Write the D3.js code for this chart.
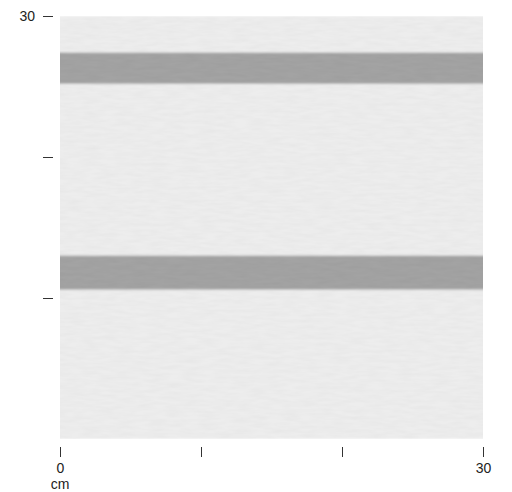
<!DOCTYPE html>
<html>
<head>
<meta charset="utf-8">
<script src="https://cdn.jsdelivr.net/npm/d3@7"></script>
<style>
  body { margin: 0; background: #fff; }
  text { font-family: "Liberation Sans", Arial, sans-serif; }
</style>
</head>
<body>
<script>
// bande scure del tessuto (cm dal basso)
const stripeStart = [25.2, 10.6];
const stripeEnd = [27.4, 13.0];
// tacche degli assi
const xTicks = [0, 10, 20, 30];
const yTicks = [10, 20, 30];
const xLabels = {0: "0", 30: "30"};
const yLabels = {30: "30"};

const width = 512, height = 492;

const svg = d3.select("body").append("svg")
  .attr("width", width)
  .attr("height", height);

const x = d3.scaleLinear().domain([0, 30]).range([60, 483]);
const y = d3.scaleLinear().domain([0, 30]).range([439, 16]);

// filtro per la trama del tessuto
const defs = svg.append("defs");
const f = defs.append("filter").attr("id", "weave")
  .attr("x", 0).attr("y", 0).attr("width", 1).attr("height", 1);
f.append("feGaussianBlur").attr("in", "SourceGraphic").attr("stdDeviation", "0 0.8").attr("result", "soft");
f.append("feTurbulence")
  .attr("type", "fractalNoise")
  .attr("baseFrequency", "0.06 0.3")
  .attr("numOctaves", 2)
  .attr("seed", 3)
  .attr("result", "noise");
f.append("feColorMatrix")
  .attr("in", "noise")
  .attr("type", "matrix")
  .attr("values", "0 0 0 0 0  0 0 0 0 0  0 0 0 0 0  0 0 0 0.08 -0.02")
  .attr("result", "shade");
f.append("feComposite").attr("in", "shade").attr("in2", "soft").attr("operator", "atop");

const swatch = svg.append("g").attr("filter", "url(#weave)");

// sfondo chiaro
swatch.append("rect")
  .attr("x", x(0))
  .attr("y", y(30))
  .attr("width", x(30) - x(0))
  .attr("height", y(0) - y(30))
  .attr("fill", "#ededed");

// bande grigie
swatch.selectAll(".stripe")
  .data(stripeStart)
  .enter().append("rect")
  .attr("class", "stripe")
  .attr("x", x(0))
  .attr("width", x(30) - x(0))
  .attr("y", (d, i) => y(stripeEnd[i]))
  .attr("height", (d, i) => y(d) - y(stripeEnd[i]))
  .attr("fill", "#a3a3a3");

// asse x
const xAxis = svg.append("g")
  .attr("transform", "translate(0,447)")
  .call(d3.axisBottom(x).tickValues(xTicks).tickSize(10).tickPadding(6)
    .tickFormat(d => xLabels[d] || ""));
xAxis.select(".domain").remove();
xAxis.selectAll("line").attr("stroke", "#333");
xAxis.selectAll("text").attr("font-size", 14).attr("fill", "#222")
  .attr("font-family", "Liberation Sans, Arial, sans-serif");

svg.append("text")
  .attr("x", x(0))
  .attr("y", 489)
  .attr("text-anchor", "middle")
  .attr("font-size", 14)
  .attr("fill", "#222")
  .text("cm");

// asse y
const yAxis = svg.append("g")
  .attr("transform", "translate(53,0)")
  .call(d3.axisLeft(y).tickValues(yTicks).tickSize(10).tickPadding(8)
    .tickFormat(d => yLabels[d] || ""));
yAxis.select(".domain").remove();
yAxis.selectAll("line").attr("stroke", "#333");
yAxis.selectAll("text").attr("font-size", 14).attr("fill", "#222")
  .attr("font-family", "Liberation Sans, Arial, sans-serif");
</script>
</body>
</html>
